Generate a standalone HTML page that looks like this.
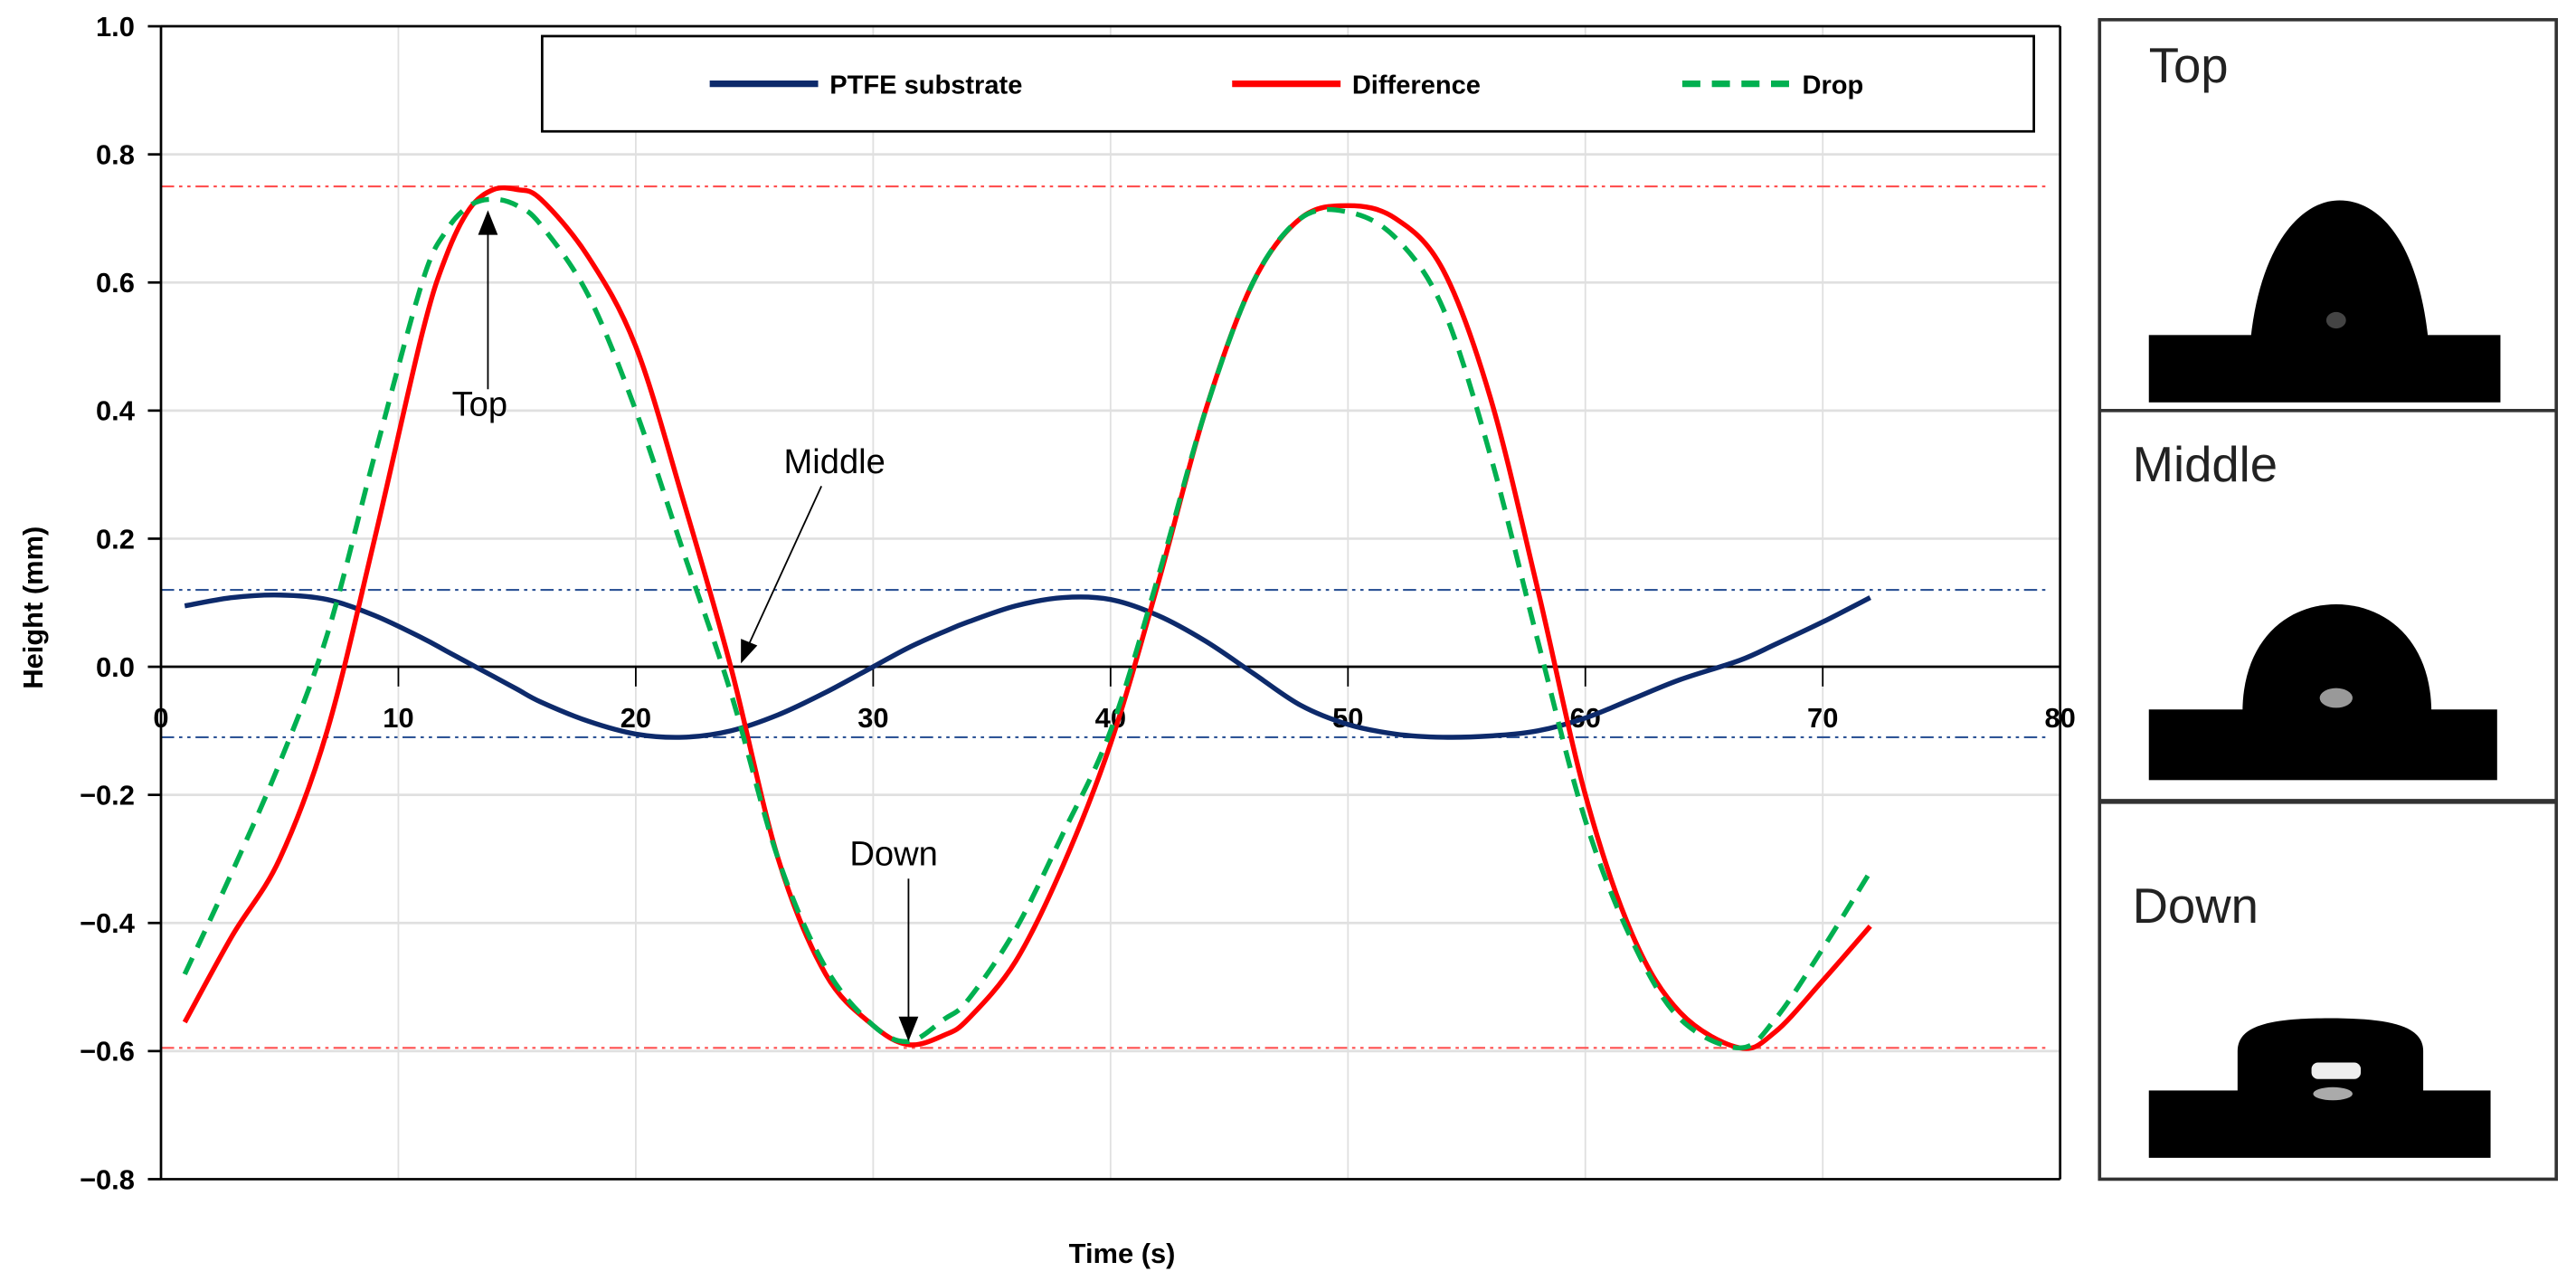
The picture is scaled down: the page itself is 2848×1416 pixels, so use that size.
<!DOCTYPE html>
<html><head><meta charset="utf-8"><style>
html,body{margin:0;padding:0;background:#fff;}
svg{display:block;font-family:"Liberation Sans",sans-serif;}
</style></head><body>
<svg id="chart" width="2848" height="1416" viewBox="0 0 1568 780" preserveAspectRatio="none" xmlns="http://www.w3.org/2000/svg">
<g id="grid"></g>
<g id="refs"></g>
<g id="axes"></g>
<g id="series"></g>
<g>
<rect x="330" y="22" width="908" height="58" fill="#fff" stroke="#000" stroke-width="1.5"/>
<line x1="432" y1="51" x2="498" y2="51" stroke="#0d2a6b" stroke-width="4"/>
<text x="505" y="57" font-size="16" font-weight="bold">PTFE substrate</text>
<line x1="750" y1="51" x2="816" y2="51" stroke="#ff0000" stroke-width="4"/>
<text x="823" y="57" font-size="16" font-weight="bold">Difference</text>
<line x1="1024" y1="51" x2="1090" y2="51" stroke="#00b050" stroke-width="4" stroke-dasharray="11,7"/>
<text x="1097" y="57" font-size="16" font-weight="bold">Drop</text>
</g>
<g>
<line x1="297" y1="237" x2="297" y2="142" stroke="#000" stroke-width="1"/>
<polygon points="297,128 291,143 303,143" fill="#000"/>
<text x="292" y="253" font-size="21" text-anchor="middle">Top</text>
<line x1="500" y1="296" x2="456" y2="392" stroke="#000" stroke-width="1"/>
<polygon points="451,404 451,389 461,393" fill="#000"/>
<text x="508" y="288" font-size="21" text-anchor="middle">Middle</text>
<line x1="553" y1="535" x2="553" y2="620" stroke="#000" stroke-width="1"/>
<polygon points="553,634 547,619 559,619" fill="#000"/>
<text x="544" y="527" font-size="21" text-anchor="middle">Down</text>
</g>
<text transform="translate(26,370) rotate(-90)" font-size="17" font-weight="bold" text-anchor="middle">Height (mm)</text>
<text x="683" y="769" font-size="17" font-weight="bold" text-anchor="middle">Time (s)</text>
<g>
<rect x="1278" y="12" width="278" height="706" fill="#fff" stroke="#333" stroke-width="2"/>
<line x1="1278" y1="250" x2="1556" y2="250" stroke="#333" stroke-width="2"/>
<line x1="1278" y1="488" x2="1556" y2="488" stroke="#333" stroke-width="3"/>
<text x="1308" y="50" font-size="30" fill="#222">Top</text>
<text x="1298" y="293" font-size="30" fill="#222">Middle</text>
<text x="1298" y="562" font-size="30" fill="#222">Down</text>
<g>
<rect x="1308" y="204" width="214" height="41" fill="#000"/>
<path d="M1370,206 C1376,150 1400,122 1424,122 C1450,122 1472,150 1478,206 Z" fill="#000"/>
<ellipse cx="1422" cy="195" rx="6" ry="5" fill="#444"/>
</g>
<g>
<rect x="1308" y="432" width="212" height="43" fill="#000"/>
<path d="M1365,434 C1365,390 1392,368 1422,368 C1452,368 1480,390 1480,434 Z" fill="#000"/>
<ellipse cx="1422" cy="425" rx="10" ry="6" fill="#999"/>
</g>
<g>
<rect x="1308" y="664" width="208" height="41" fill="#000"/>
<path d="M1362,666 L1362,640 C1362,625 1380,620 1418,620 C1456,620 1475,625 1475,640 L1475,666 Z" fill="#000"/>
<rect x="1407" y="647" width="30" height="10" rx="4" fill="#eee"/>
<ellipse cx="1420" cy="666" rx="12" ry="4" fill="#aaa"/>
</g>
</g>
</svg>
<script>
const times = [1,3,5,7,9,11,12,13,14,15,16,18,20,22,24,26,28,30,31.5,33,34,36,38,40,42,44,46,48,50,52,54,56,58,60,62,64,66.5,68,70,72];
const ptfe = [0.095,0.108,0.112,0.105,0.08,0.045,0.025,0.005,-0.015,-0.035,-0.055,-0.085,-0.105,-0.11,-0.1,-0.075,-0.04,0.0,0.03,0.055,0.07,0.095,0.108,0.105,0.08,0.04,-0.01,-0.06,-0.09,-0.105,-0.11,-0.108,-0.1,-0.08,-0.05,-0.02,0.01,0.035,0.07,0.108];
const difference = [-0.555,-0.42,-0.3,-0.1,0.2,0.52,0.64,0.715,0.745,0.745,0.73,0.64,0.5,0.26,0.0,-0.3,-0.48,-0.56,-0.59,-0.575,-0.55,-0.46,-0.31,-0.12,0.13,0.4,0.6,0.7,0.72,0.7,0.62,0.42,0.12,-0.2,-0.42,-0.54,-0.595,-0.57,-0.49,-0.405];
const drop = [-0.48,-0.32,-0.15,0.05,0.33,0.6,0.68,0.72,0.73,0.72,0.69,0.58,0.4,0.18,-0.04,-0.3,-0.47,-0.56,-0.585,-0.55,-0.52,-0.41,-0.26,-0.1,0.14,0.4,0.6,0.7,0.71,0.67,0.56,0.33,0.04,-0.24,-0.43,-0.55,-0.595,-0.55,-0.44,-0.32];
const xTicks = [0,10,20,30,40,50,60,70,80];
const yTicks = [-0.8,-0.6,-0.4,-0.2,0.0,0.2,0.4,0.6,0.8,1.0];
const refRed = [0.75,-0.595];
const refBlue = [0.12,-0.11];

const NS="http://www.w3.org/2000/svg";
const X0=98,X1=1254,Y0=406,YPU=390;
function xs(t){return X0+(t-0)*(X1-X0)/80;}
function ys(v){return Y0-v*YPU;}
function mk(tag,attrs,parent,txt){const e=document.createElementNS(NS,tag);for(const k in attrs)e.setAttribute(k,attrs[k]);if(txt!==undefined)e.textContent=txt;parent.appendChild(e);return e;}
const grid=document.getElementById('grid'),axes=document.getElementById('axes'),refs=document.getElementById('refs'),ser=document.getElementById('series');
xTicks.forEach(t=>{ if(t>0&&t<80){const l=mk('line',{x1:xs(t),x2:xs(t),y1:ys(1.0),y2:ys(-0.8),stroke:'#e0e0e0','stroke-width':1},grid);

}
 const tl=mk('text',{x:xs(t),y:Y0+37,'font-size':17,'font-weight':'bold','text-anchor':'middle'},axes,String(t));
 
 
 mk('line',{x1:xs(t),x2:xs(t),y1:Y0,y2:Y0+12,stroke:'#000','stroke-width':1},axes);
});
yTicks.forEach(v=>{ if(v<0.99&&Math.abs(v)>0.01){const l=mk('line',{x1:X0,x2:X1,y1:ys(v),y2:ys(v),stroke:'#e0e0e0','stroke-width':1.5},grid);

}
 const tl=mk('text',{x:X0-16,y:ys(v)+6,'font-size':17,'font-weight':'bold','text-anchor':'end'},axes,v.toFixed(1).replace('-','\u2212'));
 
 
 mk('line',{x1:X0-8,x2:X0,y1:ys(v),y2:ys(v),stroke:'#000','stroke-width':1.5},axes);
});
mk('line',{x1:X0,x2:X0,y1:ys(1.0),y2:ys(-0.8),stroke:'#000','stroke-width':1.5},axes);
mk('line',{x1:X0,x2:X1,y1:ys(1.0),y2:ys(1.0),stroke:'#000','stroke-width':1.5},axes);
mk('line',{x1:X1,x2:X1,y1:ys(1.0),y2:ys(-0.8),stroke:'#000','stroke-width':1.5},axes);
mk('line',{x1:X0,x2:X1,y1:ys(-0.8),y2:ys(-0.8),stroke:'#000','stroke-width':1.5},axes);
mk('line',{x1:X0,x2:X1,y1:Y0,y2:Y0,stroke:'#000','stroke-width':1.5},axes);
refRed.forEach(v=>{const l=mk('line',{x1:X0,x2:1248,y1:ys(v),y2:ys(v),stroke:'#ff5050','stroke-width':1.2,'stroke-dasharray':'8,3,2,3,2,3'},refs);

});
refBlue.forEach(v=>{const l=mk('line',{x1:X0,x2:1248,y1:ys(v),y2:ys(v),stroke:'#2f5597','stroke-width':1.2,'stroke-dasharray':'8,3,2,3,2,3'},refs);

});
function path(vals){const p=times.map((t,i)=>[xs(t),ys(vals[i])]);let d='M'+p[0][0]+','+p[0][1];
 for(let i=0;i<p.length-1;i++){const a=p[Math.max(0,i-1)],b=p[i],c=p[i+1],e=p[Math.min(p.length-1,i+2)];
 d+=' C'+(b[0]+(c[0]-a[0])/6)+','+(b[1]+(c[1]-a[1])/6)+' '+(c[0]-(e[0]-b[0])/6)+','+(c[1]-(e[1]-b[1])/6)+' '+c[0]+','+c[1];}
 return d;}
const s1=mk('path',{d:path(ptfe),fill:'none',stroke:'#0d2a6b','stroke-width':3},ser);


const s2=mk('path',{d:path(difference),fill:'none',stroke:'#ff0000','stroke-width':3},ser);


const s3=mk('path',{d:path(drop),fill:'none',stroke:'#00b050','stroke-width':3,'stroke-dasharray':'11,7'},ser);


</script>
</body></html>
